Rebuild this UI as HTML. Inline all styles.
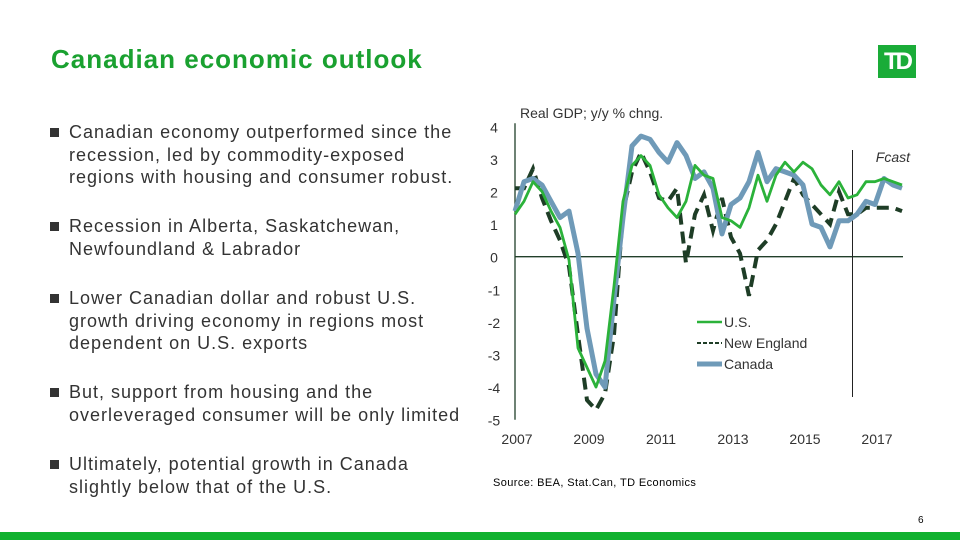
<!DOCTYPE html>
<html><head><meta charset="utf-8"><style>
body{margin:0;width:960px;height:540px;position:relative;background:#fff;font-family:"Liberation Sans",sans-serif;overflow:hidden}
.t{position:absolute}
h1{position:absolute;left:51px;top:44px;margin:0;font-size:26px;color:#1aa130;font-weight:bold;letter-spacing:1px}
.b{position:absolute;left:50px;width:420px;font-size:18px;color:#333;line-height:22.5px;letter-spacing:1px}
.b span.sq{position:absolute;left:0;top:7px;width:9px;height:9px;background:#333}
.b div{margin-left:19px;width:395px}
</style></head><body>
<h1>Canadian economic outlook</h1>
<div style="position:absolute;left:878px;top:45px;width:38px;height:33px;background:#1aac38;color:#fff;font-weight:bold;font-size:24px;line-height:33px;text-align:center;letter-spacing:-3px">TD</div>
<div class="b" style="top:121px"><span class="sq"></span><div>Canadian economy outperformed since the recession, led by commodity-exposed regions with housing and consumer robust.</div></div>
<div class="b" style="top:215px"><span class="sq"></span><div>Recession in Alberta, Saskatchewan, Newfoundland &amp; Labrador</div></div>
<div class="b" style="top:287px"><span class="sq"></span><div>Lower Canadian dollar and robust U.S. growth driving economy in regions most dependent on U.S. exports</div></div>
<div class="b" style="top:381px"><span class="sq"></span><div>But, support from housing and the overleveraged consumer will be only limited</div></div>
<div class="b" style="top:453px"><span class="sq"></span><div>Ultimately, potential growth in Canada slightly below that of the U.S.</div></div>
<div class="t" style="left:493px;top:477px;font-size:11px;color:#000;letter-spacing:0.4px">Source: BEA, Stat.Can, TD Economics</div>
<div class="t" style="left:918px;top:515px;font-size:10px;color:#000">6</div>
<div style="position:absolute;left:0;top:532px;width:960px;height:8px;background:#11b12f"></div>
<svg id="chart" width="960" height="540" style="position:absolute;left:0;top:0" font-family="Liberation Sans, sans-serif"></svg>
<script>
const years=['2007','2009','2011','2013','2015','2017'];
const yTicks=[4,3,2,1,0,-1,-2,-3,-4,-5];
const us=[1.3,1.7,2.3,2.0,1.4,0.9,-0.1,-2.8,-3.4,-4.0,-3.2,-0.9,1.7,2.8,3.1,2.8,1.9,1.5,1.2,1.7,2.8,2.5,2.4,1.2,1.1,0.9,1.5,2.5,1.7,2.5,2.9,2.6,2.9,2.7,2.2,1.9,2.3,1.8,1.9,2.3,2.3,2.4,2.3,2.2];
const ne=[2.1,2.1,2.7,1.8,1.1,0.5,-0.3,-2.4,-4.4,-4.7,-4.2,-2.4,1.4,2.6,3.2,2.6,1.8,1.7,2.1,-0.2,1.3,1.9,0.8,1.8,0.6,0.1,-1.2,0.2,0.5,1.0,1.7,2.4,1.9,1.6,1.3,1.0,2.0,1.3,1.3,1.5,1.5,1.5,1.5,1.4];
const ca=[1.4,2.3,2.4,2.2,1.7,1.2,1.4,0.1,-2.2,-3.6,-4.0,-1.3,1.2,3.4,3.7,3.6,3.2,2.9,3.5,3.1,2.4,2.6,2.1,0.7,1.6,1.8,2.3,3.2,2.3,2.7,2.6,2.5,2.2,1.0,0.9,0.3,1.1,1.1,1.3,1.7,1.6,2.4,2.2,2.1];
const fcastIndex=37.5;
const svg=document.getElementById('chart');
const NS='http://www.w3.org/2000/svg';
const X=i=>515+9*i, Y=v=>256.7-32.6*v;
function mk(tag,attrs,txt){const e=document.createElementNS(NS,tag);for(const k in attrs)e.setAttribute(k,attrs[k]);if(txt!==undefined)e.textContent=txt;svg.appendChild(e);return e;}
let e;
e=mk('line',{x1:515,y1:Y(4)-3,x2:515,y2:Y(-5),stroke:'#213f2a','stroke-width':1.3});

e=mk('line',{x1:515,y1:Y(0),x2:903,y2:Y(0),stroke:'#213f2a','stroke-width':1.3});

yTicks.forEach(v=>{e=mk('text',{x:494,y:Y(v)+6,'font-size':14,fill:'#333','text-anchor':'middle'},String(v));
});
years.forEach((y,k)=>{e=mk('text',{x:X(k*8)+2,y:444,'font-size':14,fill:'#333','text-anchor':'middle'},y);
});
e=mk('text',{x:520,y:118,'font-size':14,fill:'#333'},'Real GDP; y/y % chng.');

e=mk('line',{x1:X(fcastIndex),y1:150,x2:X(fcastIndex),y2:397,stroke:'#222','stroke-width':1});

e=mk('text',{x:910,y:162,'font-size':14,fill:'#333','font-style':'italic','text-anchor':'end'},'Fcast');

const pts=a=>a.map((v,i)=>X(i).toFixed(1)+','+Y(v).toFixed(1)).join(' ');
e=mk('polyline',{points:pts(ne),fill:'none',stroke:'#1e3d26','stroke-width':4,'stroke-dasharray':'12,7'});

e=mk('polyline',{points:pts(ca),fill:'none',stroke:'#6f9ab8','stroke-width':5,'stroke-linejoin':'round'});

e=mk('polyline',{points:pts(us),fill:'none',stroke:'#2bb23a','stroke-width':2.8,'stroke-linejoin':'round'});

const leg=[['U.S.','#2bb23a',2.5,'',322],['New England','#1e3d26',2,'4,2',343],['Canada','#6f9ab8',5,'',364]];
leg.forEach(l=>{e=mk('line',{x1:697,y1:l[4],x2:722,y2:l[4],stroke:l[1],'stroke-width':l[2],'stroke-dasharray':l[3]});

e=mk('text',{x:724,y:l[4]+5,'font-size':14,fill:'#333'},l[0]);
});
</script>
</body></html>
